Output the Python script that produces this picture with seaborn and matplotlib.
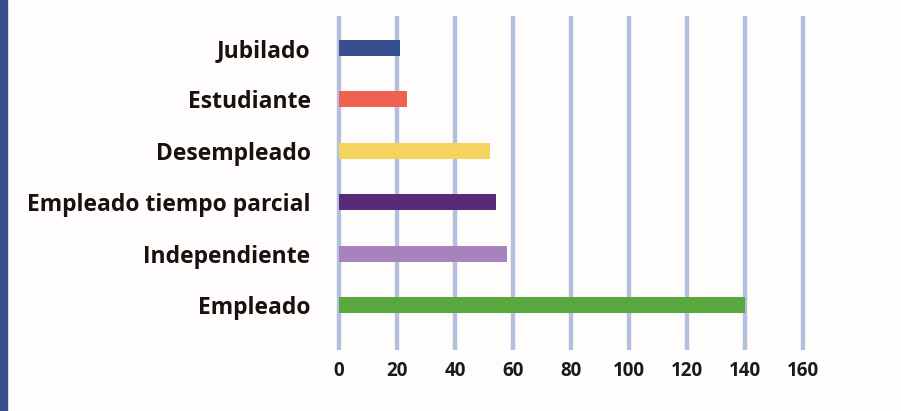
import pandas as pd
import matplotlib
matplotlib.use("Agg")
import matplotlib.pyplot as plt
import seaborn as sns

categorias = ["Jubilado", "Estudiante", "Desempleado", "Empleado tiempo parcial",
              "Independiente", "Empleado"]
valores = [21, 23.5, 52, 54, 58, 140]
colores = ["#36508f", "#ef6150", "#f5d35f", "#572a7a", "#a882bd", "#58a83f"]
ticks_x = [0, 20, 40, 60, 80, 100, 120, 140, 160]

df = pd.DataFrame({"categoria": categorias, "valor": valores})

sns.set_style("white")
plt.rcParams['font.family'] = ['Open Sans', 'DejaVu Sans']

fig = plt.figure(figsize=(9.01, 4.11), dpi=100)
fig.patch.set_facecolor("#fffdfc")
# franja azul a la izquierda
fig.add_artist(plt.Rectangle((0, 0), 7 / 901, 1, transform=fig.transFigure,
                             color="#3a4e8c", zorder=0))

ax = fig.add_axes([324.5 / 901, 61 / 411, 493 / 901, 334 / 411])
ax.set_facecolor("#fffdfc")

sns.barplot(data=df, x="valor", y="categoria", hue="categoria", palette=colores,
            order=categorias, width=0.31, legend=False, ax=ax, zorder=3,
            saturation=1, linewidth=0)

ax.set_xlim(-5, 165)
ax.set_ylim(5.875, -0.62)
ax.set_xticks(ticks_x)
ax.set_xticklabels([str(t) for t in ticks_x])
for t in ticks_x:
    ax.axvline(t, color="#b4bedd", lw=3.2, zorder=1, solid_capstyle="round")

for s in ax.spines.values():
    s.set_visible(False)
ax.tick_params(axis="both", length=0)
ax.tick_params(axis="x", pad=8, labelsize=13.5, colors="#1a1a1a")
ax.tick_params(axis="y", pad=10, labelsize=16.5, colors="#1a1010")
for lab in ax.get_yticklabels() + ax.get_xticklabels():
    lab.set_fontweight("bold")
ax.set_xlabel("")
ax.set_ylabel("")

fig.savefig("out.png", dpi=100, facecolor=fig.get_facecolor())
